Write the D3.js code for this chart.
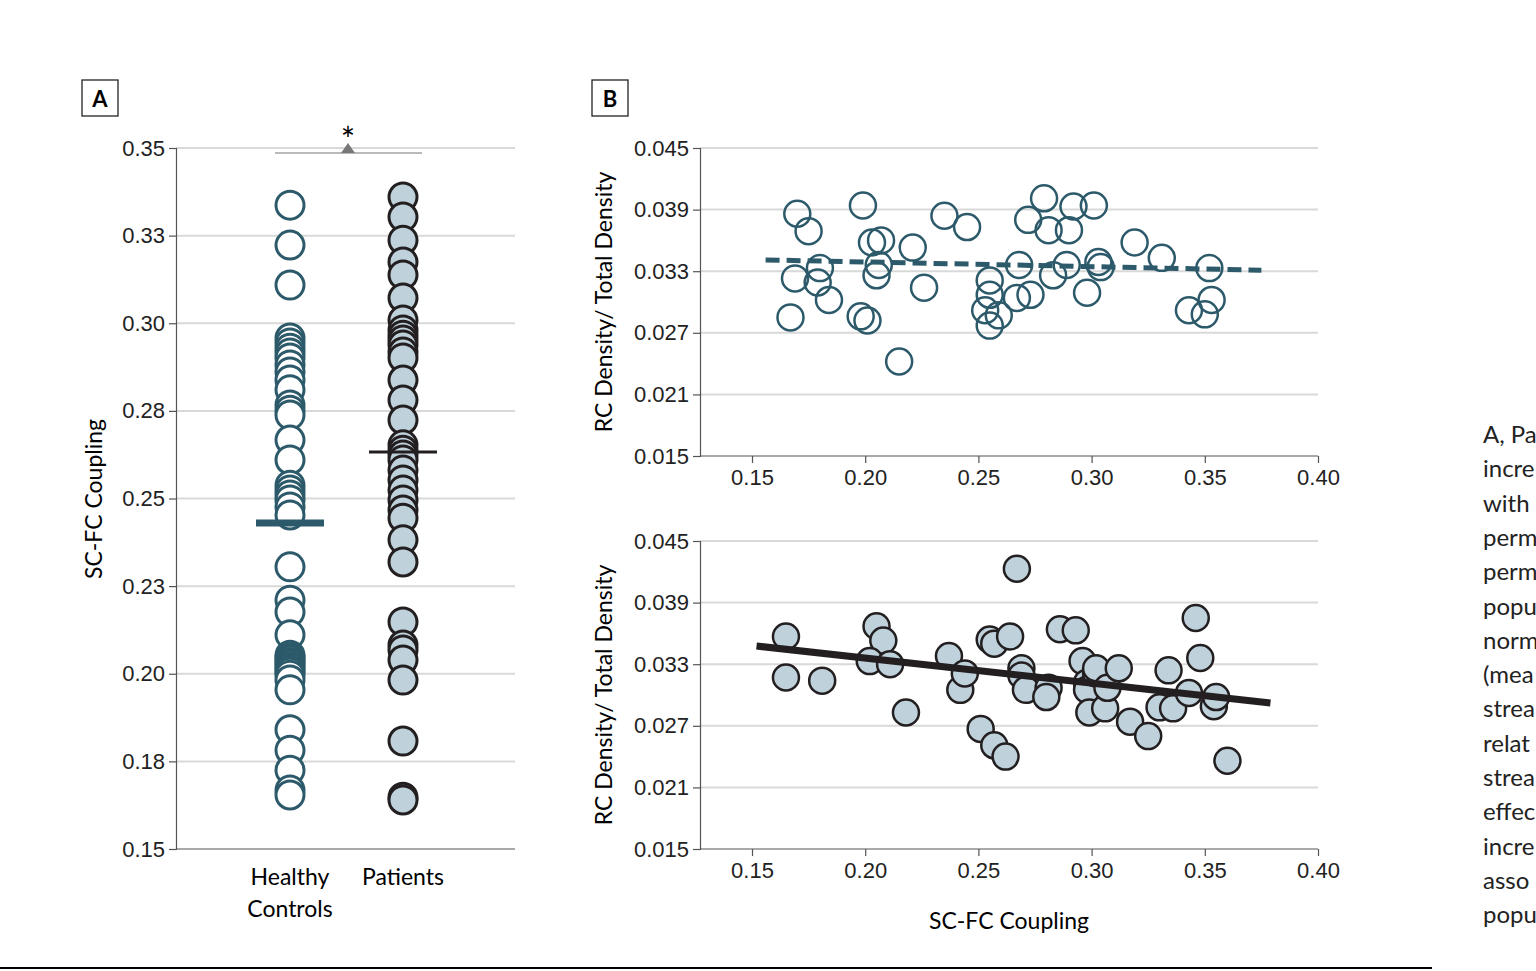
<!DOCTYPE html><html><head><meta charset="utf-8">
<script src="https://cdn.jsdelivr.net/npm/d3@7"></script>
<style>body{margin:0;background:#fff;overflow:hidden}svg{font-family:Lato,"Noto Sans",sans-serif}</style></head><body>
<svg id="c" width="1536" height="971"></svg>
<script>
const groups=["Healthy Controls","Patients"];
const healthy=[0.3337,0.3223,0.3109,0.2958,0.2944,0.2929,0.2915,0.2901,0.2881,0.2861,0.2838,0.2810,0.2767,0.2752,0.2738,0.2667,0.2610,0.2538,0.2524,0.2510,0.2496,0.2476,0.2453,0.2305,0.2210,0.2176,0.2111,0.2053,0.2046,0.2039,0.2032,0.2025,0.2018,0.2011,0.2004,0.1996,0.1982,0.1954,0.1840,0.1782,0.1725,0.1668,0.1654];
const patients=[0.3360,0.3303,0.3237,0.3175,0.3138,0.3072,0.3009,0.2981,0.2966,0.2952,0.2938,0.2918,0.2901,0.2838,0.2781,0.2724,0.2653,0.2638,0.2624,0.2610,0.2581,0.2553,0.2524,0.2496,0.2467,0.2444,0.2382,0.2319,0.2148,0.2082,0.2068,0.2039,0.1982,0.1808,0.1648,0.1640];
const means=[0.243,0.2633];
const yTicksA=[0.15,0.175,0.2,0.225,0.25,0.275,0.3,0.325,0.35];
const yTickLabelsA=["0.15","0.18","0.20","0.23","0.25","0.28","0.30","0.33","0.35"];
const hcX=[.170,.175,.169,.180,.179,.167,.184,.199,.198,.201,.203,.207,.206,.205,.221,.226,.215,.235,.245,.255,.253,.255,.255,.259,.268,.267,.272,.273,.279,.281,.283,.289,.290,.292,.298,.301,.303,.304,.319,.331,.343,.350,.353,.352];
const hcY=[.0386,.0369,.0323,.0333,.0319,.0285,.0302,.0394,.0286,.0282,.0358,.0360,.0336,.0326,.0353,.0314,.0242,.0384,.0373,.0277,.0292,.0307,.0321,.0287,.0336,.0304,.0380,.0307,.0401,.0370,.0326,.0336,.0370,.0393,.0309,.0394,.0339,.0334,.0358,.0343,.0292,.0288,.0302,.0333];
const ptX=[.165,.165,.181,.205,.208,.202,.211,.218,.237,.242,.244,.251,.255,.257,.257,.262,.264,.267,.269,.269,.271,.281,.280,.286,.293,.296,.298,.298,.299,.302,.302,.306,.307,.312,.317,.325,.330,.334,.336,.343,.346,.348,.354,.355,.360];
const ptY=[.0357,.0317,.0314,.0367,.0353,.0333,.0330,.0283,.0338,.0305,.0321,.0267,.0354,.0350,.0251,.0240,.0357,.0423,.0326,.0319,.0305,.0307,.0298,.0364,.0363,.0333,.0312,.0305,.0283,.0321,.0326,.0287,.0307,.0326,.0274,.0260,.0288,.0324,.0287,.0302,.0375,.0336,.0289,.0298,.0236];
const hcFit=[[0.156,0.0341],[0.375,0.0331]];
const ptFit=[[0.152,0.03477],[0.379,0.02922]];
const xTicksB=[0.15,0.20,0.25,0.30,0.35,0.40];
const yTicksB=[0.015,0.021,0.027,0.033,0.039,0.045];
const caption=["A, Pa","incre","with","perm","perm","popu","norm","(mea","strea","relat","strea","effec","incre","asso","popu"];

const svg=d3.select("#c");
const teal="#2d5a6a",fillL="#bfd1db",dark="#231f20",grid="#d9d9d9";
function styleAxis(g){g.selectAll("path,line").attr("stroke","#555").attr("stroke-width",1.2);g.selectAll("text").attr("font-size",22).attr("fill","#222");}
function box(x,y,t){svg.append("rect").attr("x",x).attr("y",y).attr("width",36).attr("height",36).attr("fill","none").attr("stroke","#222").attr("stroke-width",1.3);
 svg.append("text").attr("x",x+18).attr("y",y+27).attr("text-anchor","middle").attr("font-size",22).attr("font-weight","bold").text(t);}
const yA=d3.scaleLinear().domain([0.15,0.35]).range([849,148]);
const xA=d3.scalePoint().domain(groups).range([290,403]);
const gA=svg.append("g");
gA.selectAll("line.g").data(yTicksA.slice(1)).join("line").attr("x1",176).attr("x2",515).attr("y1",d=>yA(d)).attr("y2",d=>yA(d)).attr("stroke",grid).attr("stroke-width",2);
const axA=gA.append("g").attr("transform","translate(176,0)").call(d3.axisLeft(yA).tickValues(yTicksA).tickFormat((d,i)=>yTickLabelsA[i]).tickSize(7).tickPadding(4));
styleAxis(axA);
gA.append("line").attr("x1",176).attr("x2",515).attr("y1",849).attr("y2",849).attr("stroke","#555").attr("stroke-width",1.2);
gA.selectAll("circle.h").data(healthy).join("circle").attr("cx",xA(groups[0])).attr("cy",d=>yA(d)).attr("r",14).attr("fill","#fff").attr("stroke",teal).attr("stroke-width",3);
gA.selectAll("circle.p").data(patients).join("circle").attr("cx",xA(groups[1])).attr("cy",d=>yA(d)).attr("r",14).attr("fill",fillL).attr("stroke",dark).attr("stroke-width",3);
gA.append("line").attr("x1",xA(groups[0])-34).attr("x2",xA(groups[0])+34).attr("y1",yA(means[0])).attr("y2",yA(means[0])).attr("stroke",teal).attr("stroke-width",7);
gA.append("line").attr("x1",xA(groups[1])-34).attr("x2",xA(groups[1])+34).attr("y1",yA(means[1])).attr("y2",yA(means[1])).attr("stroke",dark).attr("stroke-width",3);
gA.append("line").attr("x1",275).attr("x2",422).attr("y1",153).attr("y2",153).attr("stroke","#777").attr("stroke-width",1.2);
gA.append("path").attr("d","M341,153L348,143L355,153Z").attr("fill","#777");
gA.append("text").attr("x",348).attr("y",152).attr("text-anchor","middle").attr("font-size",34).text("*");
gA.append("text").attr("x",290).attr("y",885).attr("text-anchor","middle").attr("font-size",23).text("Healthy");
gA.append("text").attr("x",290).attr("y",917).attr("text-anchor","middle").attr("font-size",23).text("Controls");
gA.append("text").attr("x",403).attr("y",885).attr("text-anchor","middle").attr("font-size",23).text("Patients");
gA.append("text").attr("transform","translate(102,499) rotate(-90)").attr("text-anchor","middle").attr("font-size",23).text("SC-FC Coupling");
box(82,80,"A");box(592,80,"B");
const xB=d3.scaleLinear().domain([0.15,0.40]).range([752,1318]);
function panel(top,xs,ys,fit,open,dash){
 const y=d3.scaleLinear().domain([0.015,0.045]).range([top+308,top]);
 const g=svg.append("g");
 g.selectAll("line.g").data(yTicksB.slice(1)).join("line").attr("x1",700).attr("x2",1318).attr("y1",d=>y(d)).attr("y2",d=>y(d)).attr("stroke",grid).attr("stroke-width",2);
 styleAxis(g.append("g").attr("transform","translate(700,0)").call(d3.axisLeft(y).tickValues(yTicksB).tickFormat(d3.format(".3f")).tickSize(7).tickPadding(4)));
 const ax=g.append("g").attr("transform",`translate(0,${top+308})`).call(d3.axisBottom(xB).tickValues(xTicksB).tickFormat(d3.format(".2f")).tickSize(7).tickPadding(6));
 styleAxis(ax);ax.select("path").attr("d","M700,0H1318");
 g.selectAll("circle").data(xs.map((d,i)=>[d,ys[i]])).join("circle").attr("cx",d=>xB(d[0])).attr("cy",d=>y(d[1])).attr("r",13).attr("fill",open?"none":fillL).attr("stroke",open?teal:dark).attr("stroke-width",2.5);
 g.append("line").attr("x1",xB(fit[0][0])).attr("y1",y(fit[0][1])).attr("x2",xB(fit[1][0])).attr("y2",y(fit[1][1])).attr("stroke",open?teal:dark).attr("stroke-width",dash?5:7).attr("stroke-dasharray",dash?"14,7":null);
 g.append("text").attr("transform",`translate(612,${top+154}) rotate(-90)`).attr("text-anchor","middle").attr("font-size",23).text("RC Density/ Total Density");
}
panel(148,hcX,hcY,hcFit,true,true);
panel(541,ptX,ptY,ptFit,false,false);
svg.append("text").attr("x",1009).attr("y",929).attr("text-anchor","middle").attr("font-size",23).text("SC-FC Coupling");
svg.selectAll("text.cap").data(caption).join("text").attr("x",1483).attr("y",(d,i)=>443+i*34.3).attr("font-size",24).attr("fill","#222").text(d=>d);
svg.append("line").attr("x1",0).attr("x2",1432).attr("y1",968).attr("y2",968).attr("stroke","#000").attr("stroke-width",2);
</script></body></html>
